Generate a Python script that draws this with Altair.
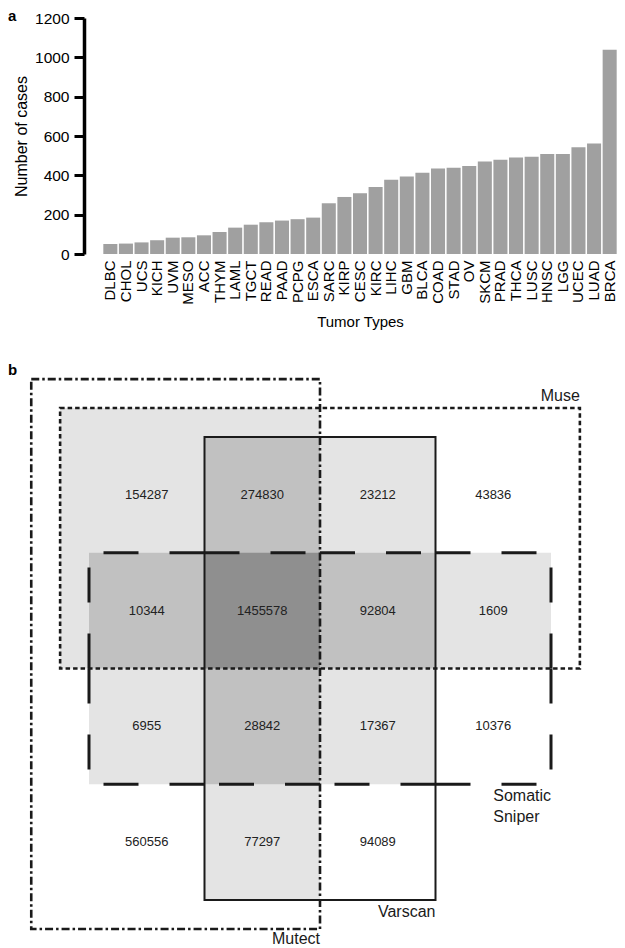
import itertools
import altair as alt
import pandas as pd

# ---------------- panel a data ----------------
tumor_types = ["DLBC", "CHOL", "UCS", "KICH", "UVM", "MESO", "ACC", "THYM", "LAML", "TGCT",
               "READ", "PAAD", "PCPG", "ESCA", "SARC", "KIRP", "CESC", "KIRC", "LIHC", "GBM",
               "BLCA", "COAD", "STAD", "OV", "SKCM", "PRAD", "THCA", "LUSC", "HNSC", "LGG",
               "UCEC", "LUAD", "BRCA"]
case_counts = [51, 53, 59, 70, 83, 85, 95, 112, 134, 149,
               161, 170, 177, 185, 258, 290, 309, 341, 377, 394,
               413, 435, 438, 447, 470, 479, 491, 494, 509, 509,
               543, 562, 1039]
y_ticks = [0, 200, 400, 600, 800, 1000, 1200]

# ---------------- panel b data (grid units) ----------------
set_names = ["Mutect", "Muse", "Varscan", "Somatic Sniper"]
set_x0 = [-0.5, -0.25, 1, 0]
set_x1 = [2, 4.25, 3, 4]
set_y0 = [-0.5, -0.25, 0, 1]
set_y1 = [4.25, 2, 4, 3]

cell_rows = [0, 0, 0, 0, 1, 1, 1, 1, 2, 2, 2, 2, 3, 3, 3]
cell_cols = [0, 1, 2, 3, 0, 1, 2, 3, 0, 1, 2, 3, 0, 1, 2]
cell_counts = [154287, 274830, 23212, 43836,
               10344, 1455578, 92804, 1609,
               6955, 28842, 17367, 10376,
               560556, 77297, 94089]

# Somatic Sniper outline drawn edge by edge (start -> end)
sniper_sx = [1, 1, 2, 3, 1, 2, 3, 3, 0, 0, 4, 4]
sniper_sy = [1, 1, 1, 1, 3, 3, 3, 3, 2, 2, 2, 2]
sniper_ex = [0, 2, 3, 4, 0, 1, 2, 4, 0, 0, 4, 4]
sniper_ey = [1, 1, 1, 1, 3, 3, 3, 3, 1, 3, 1, 3]

W, H = 609, 940
FONT = "Liberation Sans"

# ---------------- panel a ----------------
bar_df = pd.DataFrame({"type": tumor_types, "cases": case_counts})
bars = alt.Chart(bar_df).mark_bar(color="#a0a0a0").encode(
    x=alt.X("type:N", sort=tumor_types,
            scale=alt.Scale(range=[95, 609], paddingInner=0.1, paddingOuter=0.02),
            axis=alt.Axis(title="Tumor Types", orient="bottom", offset=-(H - 246),
                          domain=False, ticks=False, labelAngle=270, labelAlign="right",
                          labelBaseline="middle", labelPadding=6, labelFontSize=15,
                          labelColor="black", titleFontSize=15, titleFontWeight="normal",
                          titleColor="black", titlePadding=10, grid=False)),
    y=alt.Y("cases:Q",
            scale=alt.Scale(domain=[0, 1200], range=[246, 10], nice=False),
            axis=alt.Axis(values=y_ticks, format="d", title="Number of cases", orient="left",
                          offset=-76, domainWidth=3.5, domainColor="black", tickWidth=3,
                          tickColor="black", tickSize=10, labelFontSize=15.5, labelPadding=5,
                          labelColor="black", titleFontSize=16, titleFontWeight="normal",
                          titleColor="black", titlePadding=5, grid=False)),
)

# ---------------- panel b ----------------
vx = alt.Scale(domain=[0, 4], range=[81, 543], nice=False, zero=False)
vy = alt.Scale(domain=[0, 4], range=[429, 892], nice=False, zero=False)

def venn_enc(xf="x0", x2f="x1", yf="y0", y2f="y1"):
    return dict(
        x=alt.X(f"{xf}:Q", scale=vx, axis=None),
        x2=alt.X2(f"{x2f}:Q"),
        y=alt.Y(f"{yf}:Q", scale=vy, axis=None),
        y2=alt.Y2(f"{y2f}:Q"),
    )

fill_rows = []
for k in (2, 3, 4):
    for combo in itertools.combinations(range(4), k):
        x0 = max(set_x0[i] for i in combo)
        x1 = min(set_x1[i] for i in combo)
        y0 = max(set_y0[i] for i in combo)
        y1 = min(set_y1[i] for i in combo)
        if x1 > x0 and y1 > y0:
            fill_rows.append(dict(x0=x0, x1=x1, y0=y0, y1=y1, k=k))
fill_df = pd.DataFrame(fill_rows)
shades = {2: "#e4e4e4", 3: "#c1c1c1", 4: "#8f8f8f"}
fill_layers = [
    alt.Chart(fill_df[fill_df.k == k]).mark_rect(color=shades[k], strokeWidth=0).encode(**venn_enc())
    for k in (2, 3, 4)
]

sets_df = pd.DataFrame({"name": set_names, "x0": set_x0, "x1": set_x1, "y0": set_y0, "y1": set_y1})

def outline(name, **style):
    return alt.Chart(sets_df[sets_df.name == name]).mark_rect(
        fillOpacity=0, stroke="#1a1a1a", **style).encode(**venn_enc())

varscan_o = outline("Varscan", strokeWidth=2)
muse_o = outline("Muse", strokeWidth=2.6, strokeDash=[4.5, 3])
mutect_o = outline("Mutect", strokeWidth=2.6, strokeDash=[8, 3, 2.5, 3])

sniper_df = pd.DataFrame({"sx": sniper_sx, "sy": sniper_sy, "ex": sniper_ex, "ey": sniper_ey})
sniper_o = alt.Chart(sniper_df).mark_rule(
    stroke="#1a1a1a", strokeWidth=3, strokeDash=[35, 31], strokeCap="butt").encode(
    x=alt.X("sx:Q", scale=vx, axis=None), x2=alt.X2("ex:Q"),
    y=alt.Y("sy:Q", scale=vy, axis=None), y2=alt.Y2("ey:Q"))

cells_df = pd.DataFrame({"cx": [c + 0.5 for c in cell_cols],
                         "cy": [r + 0.5 for r in cell_rows],
                         "label": [str(v) for v in cell_counts]})
counts = alt.Chart(cells_df).mark_text(fontSize=13, color="#222222", baseline="middle").encode(
    x=alt.X("cx:Q", scale=vx, axis=None), y=alt.Y("cy:Q", scale=vy, axis=None), text="label:N")

lab_text = ["Muse", "Varscan", "Mutect", "Somatic\nSniper"]
lab_x = [set_x1[1], set_x1[2], set_x1[0], set_x1[3] - 0.5]
lab_y = [set_y0[1], set_y1[2], set_y1[0], set_y1[3]]
lab_align = ["right", "right", "right", "left"]
lab_size = [16, 16, 16, 16]
lab_dy = [-7, 17, 15, 17]
lab_df = pd.DataFrame({"t": lab_text, "lx": lab_x, "ly": lab_y})
set_labels = [
    alt.Chart(lab_df.iloc[[i]]).mark_text(fontSize=lab_size[i], color="#1a1a1a", align=lab_align[i],
                                          baseline="alphabetic", dy=lab_dy[i], lineBreak="\n",
                                          lineHeight=21).encode(
        x=alt.X("lx:Q", scale=vx, axis=None), y=alt.Y("ly:Q", scale=vy, axis=None), text="t:N")
    for i in range(len(lab_text))
]

panel_a = alt.Chart(pd.DataFrame({"t": ["a"]})).mark_text(
    fontSize=15, fontWeight="bold", align="left", baseline="alphabetic").encode(
    x=alt.value(0), y=alt.value(13), text="t:N")
panel_b = alt.Chart(pd.DataFrame({"t": ["b"]})).mark_text(
    fontSize=15, fontWeight="bold", align="left", baseline="alphabetic").encode(
    x=alt.value(0), y=alt.value(367), text="t:N")

chart = alt.layer(
    bars, *fill_layers, varscan_o, sniper_o, muse_o, mutect_o, counts, *set_labels,
    panel_a, panel_b,
).resolve_scale(x="independent", y="independent").properties(
    width=W, height=H, autosize=alt.AutoSizeParams(type="none"), padding=0
).configure(font=FONT).configure_view(stroke=None)

chart.save("out.html", embed_options={"renderer": "svg", "actions": False})
